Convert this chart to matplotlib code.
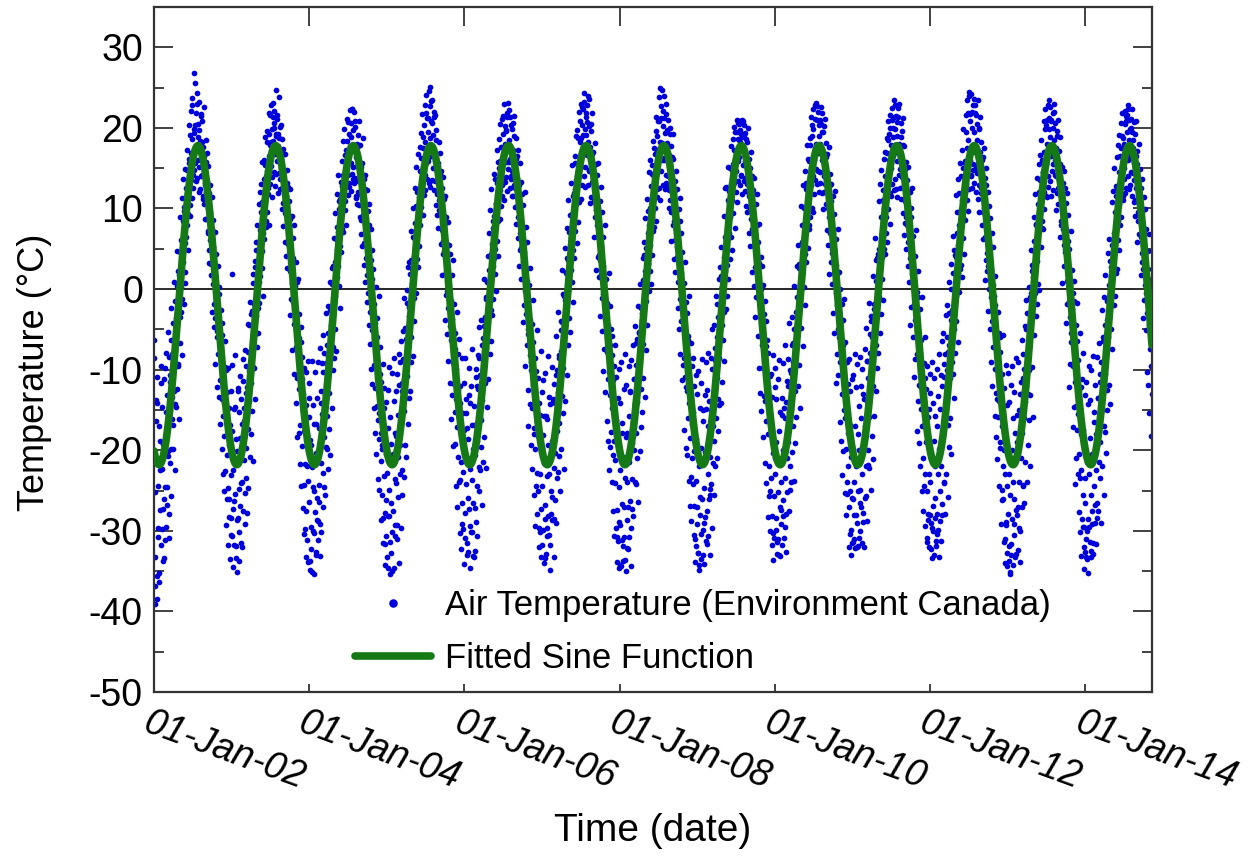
import numpy as np
import matplotlib
matplotlib.use("Agg")
import matplotlib.pyplot as plt
import matplotlib.dates as mdates
from matplotlib.ticker import MultipleLocator
import matplotlib.transforms as mtrans

# ---------------- data: air temperature (degC), sampled every 3 days ----------------
# set "a" starts 1 Jan, set "b" starts 2 Jan of each year
SAMPLE_STEP_DAYS = 3
t2002 = [-8.5, -33.2, -39.1, -16.4, -35.6, -14.2, -30.8, -24.5, -36.3, -18.9, -27.4, -11.6, -29.8, -22.3, -33.7,
         -19.5, -26.1, -9.8, -31.2, -15.3, -24.6, -13.2, -20.7, -8.4, -27.9, -11.5, -19.8, -6.3, -16.1, -13.4,
         -4.2, -12.7, -8.9, -1.5, -14.6, -6.8, 0.4, -9.3, -2.1, 1.8, -3.5, 4.6, 0.2, 6.1, -1.2,
         8.4, 3.3, 10.2, 5.7, 2.1, 12.6, 7.9, 14.8, 9.3, 11.7, 16.2, 10.4, 19.1, 13.5, 22.8,
         18.6, 14.2, 26.8, 19.4, 15.7, 20.3, 17.1, 23.0, 13.8, 18.9, 15.2, 19.7, 12.4, 21.5, 16.8,
         14.1, 18.3, 11.2, 16.5, 10.6, 12.9, 15.8, 8.7, 13.4, 10.1, 7.2, 11.9, 4.8, 9.6, 6.3,
         3.1, 7.4, 0.6, 5.2, -1.8, 1.4, -3.6, 2.8, -0.9, -5.2, -2.7, -8.1, 0.3, -6.4, -11.3,
         -7.9, -13.6, -4.2, -15.8, -10.5, -18.2, -9.7, -22.6, -14.3, -26.1, -12.8, -24.7, -19.4, -28.3, -16.9,
         -23.1, -30.5]
t2002b = [-6.3, -36.9, -25.2, -13.8, -38.4, -10.9, -29.7, -17.0, -35.2, -22.4, -9.5, -31.8, -14.6, -27.3, -19.2,
          -33.4, -11.2, -24.6, -7.9, -29.5, -26.8, -5.3, -20.1, -30.9, -10.7, -21.6, -2.4, -25.7, -8.1, -16.9,
          -19.8, 0.9, -14.3, -22.5, -3.6, -12.4, 4.7, -9.6, 2.2, -16.1, -6.7, 8.9, -2.8, 11.3, -8.2,
          13.6, -1.9, 9.7, 0.8, 14.9, 6.4, 17.2, 11.8, 4.9, 15.6, 20.4, 9.1, 16.9, 22.1, 11.3,
          23.7, 12.6, 19.9, 14.8, 25.6, 21.8, 13.4, 24.3, 16.0, 20.5, 12.1, 23.2, 18.4, 14.0, 21.7,
          20.9, 11.5, 17.6, 22.6, 13.1, 8.7, 18.5, 12.0, 16.9, 6.9, 15.3, 3.2, 12.9, 6.1, 1.7,
          11.4, -2.9, 8.6, -4.7, 2.6, 7.1, -9.3, 4.4, -6.0, -12.2, 2.9, -13.4, -0.6, -16.7, -8.5,
          -2.6, -19.8, -5.7, -22.9, -14.2, -25.0, -6.4, -29.3, -10.1, -20.6, -31.7, -9.8, -26.0, -14.7, -33.5,
          -12.6, -28.4]
t2003 = [-17.6, 1.9, -27.3, -22.5, -31.8, -25.4, -14.6, -33.4, -20.1, -28.7, -12.3, -30.2, -24.8, -18.5, -26.9,
         -31.5, -16.7, -23.9, -11.4, -21.2, -14.8, -25.3, -9.6, -19.7, -12.1, -17.4, -7.8, -13.9, -4.5, -10.2,
         -11.6, -3.1, -7.4, 0.8, -9.7, -1.9, -5.6, 2.7, -3.3, 4.9, 1.6, -2.4, 5.8, 0.9, 7.3,
         4.2, 9.5, 2.6, 10.8, 6.9, 8.8, 13.6, 10.9, 15.4, 7.7, 14.7, 18.2, 11.8, 16.5, 19.3,
         17.9, 21.6, 15.3, 19.8, 13.9, 18.4, 22.1, 20.6, 16.7, 24.7, 19.2, 15.9, 21.1, 17.8, 14.4,
         18.7, 13.6, 16.2, 20.4, 12.5, 14.9, 10.7, 16.8, 12.2, 9.4, 11.5, 7.8, 13.1, 8.9, 5.6,
         6.4, 2.3, 8.7, 4.1, 0.7, 2.2, -1.6, 3.9, -4.3, 0.4, -3.4, -7.2, 0.9, -5.8, -10.6,
         -6.1, -12.4, -8.5, -16.9, -4.7, -11.2, -19.5, -15.1, -24.3, -9.8, -21.7, -14.4, -27.6, -18.1, -31.2,
         -23.8, -15.9]
t2003b = [-30.6, -9.4, -34.5, -14.9, -26.3, -8.2, -31.9, -18.6, -35.1, -12.7, -28.4, -15.3, -33.7, -10.8, -24.1,
          -13.6, -32.0, -8.7, -27.5, -16.4, -29.1, -7.6, -23.4, -12.9, -27.8, -4.3, -24.7, -10.2, -20.8, -1.6,
          -18.0, -2.7, -15.1, 1.9, -21.3, -9.8, 3.5, -13.6, 5.8, -7.2, 7.9, -5.4, 10.6, -1.7, 12.1,
          1.6, 13.0, 4.7, 15.8, -0.9, 16.0, 6.2, 18.9, 8.5, 14.0, 9.6, 19.6, 12.5, 21.8, 7.9,
          13.0, 22.8, 18.3, 11.4, 21.3, 23.1, 14.5, 20.0, 12.8, 19.0, 14.3, 21.6, 11.9, 19.3, 23.8,
          12.4, 20.1, 15.0, 9.9, 18.6, 17.4, 7.8, 14.8, 5.9, 16.7, 4.1, 14.8, 2.6, 12.7, 7.4,
          10.9, -3.2, 12.4, -1.2, 9.1, -7.6, 6.3, -10.5, 8.0, -4.4, -14.1, 3.4, -11.0, -18.3, 1.2,
          -17.9, -3.1, -21.7, -6.6, -24.4, -8.4, -27.2, -13.0, -30.4, -17.6, -29.8, -10.3, -33.3, -22.0, -8.9,
          -33.9, -13.5]
t2004 = [-26.4, -33.8, -18.7, -29.5, -22.1, -35.1, -24.6, -30.3, -16.8, -27.7, -20.4, -32.6, -25.9, -13.5, -28.8,
         -17.2, -24.3, -29.1, -12.7, -21.6, -15.5, -22.8, -10.3, -18.4, -7.9, -13.1, -19.6, -9.2, -15.7, -5.4,
         -8.3, -12.9, -2.6, -10.1, -5.7, -4.5, 0.6, -7.2, 2.9, -1.3, 3.4, -0.8, 6.2, 1.5, 4.8,
         7.1, 2.8, 9.9, 5.3, 11.2, 9.6, 12.8, 7.4, 14.1, 11.0, 13.3, 16.6, 10.9, 15.2, 18.4,
         16.8, 14.1, 19.2, 12.7, 17.5, 15.6, 18.9, 22.4, 14.3, 19.7, 17.1, 13.2, 20.1, 11.6, 16.4,
         15.3, 12.1, 17.7, 10.4, 14.9, 11.8, 15.2, 8.6, 13.0, 10.5, 9.2, 5.7, 12.4, 7.1, 3.9,
         6.6, 1.8, 4.3, -0.5, 7.9, 0.3, -2.8, 3.6, -5.1, 1.2, -6.7, -1.9, -9.4, -4.2, -12.3,
         -8.8, -14.5, -5.9, -12.1, -18.6, -15.4, -10.6, -21.3, -17.8, -25.5, -19.9, -28.4, -14.7, -23.2, -31.6,
         -26.2, -20.5]
t2004b = [-11.6, -34.8, -19.3, -32.2, -8.9, -30.0, -14.4, -35.3, -25.1, -10.3, -33.0, -16.7, -28.6, -9.1, -31.2,
          -26.4, -7.3, -33.1, -14.2, -30.1, -9.2, -27.0, -5.7, -24.6, -13.8, -25.5, -3.0, -19.9, -7.0, -22.3,
          -2.1, -17.4, 0.9, -20.6, -6.8, -14.8, 2.6, -10.1, 6.3, -8.5, -4.9, 9.4, -7.7, 7.7, 11.8,
          14.2, 0.4, 10.9, -2.3, 13.3, 4.6, 15.9, 7.1, 18.4, 12.6, 19.9, 9.8, 17.3, 8.0, 21.1,
          11.7, 20.7, 13.1, 22.2, 17.8, 20.6, 12.2, 22.3, 15.1, 13.6, 22.0, 13.8, 20.8, 11.3, 18.0,
          10.6, 19.1, 13.4, 20.8, 9.0, 17.9, 6.8, 15.6, 5.3, 18.7, 3.0, 13.7, 0.9, 14.1, 6.2,
          12.3, -1.6, 9.7, -4.5, 10.5, -6.8, 7.4, -9.9, 4.9, -11.8, 2.5, -14.8, -6.1, -17.9, 0.2,
          -20.5, -3.6, -16.2, -23.6, -0.8, -24.9, -7.2, -28.7, -11.5, -19.4, -9.3, -31.5, -12.3, -27.8, -34.2,
          -14.0, -30.6]
t2005 = [-22.8, -34.6, -17.3, -28.1, -24.9, -31.4, -19.2, -26.6, -35.0, -21.7, -27.5, -13.9, -30.7, -23.6, -18.2,
         -24.1, -29.3, -15.6, -20.8, -11.9, -19.4, -9.1, -16.3, -22.5, -12.6, -8.7, -15.1, -11.2, -4.8, -13.5,
         -6.2, -10.8, -1.7, -8.1, -3.4, -2.2, 1.9, -5.9, 3.6, -0.4, 2.5, 6.4, -1.1, 4.1, 8.2,
         5.9, 10.3, 3.7, 8.6, 12.0, 11.4, 8.1, 14.6, 10.2, 16.3, 12.9, 17.5, 15.1, 20.4, 14.2,
         18.3, 15.6, 21.9, 17.2, 19.5, 21.2, 16.4, 25.1, 18.8, 23.3, 17.4, 20.6, 15.0, 19.1, 22.0,
         16.9, 13.4, 18.5, 14.7, 11.8, 15.6, 11.1, 13.9, 9.3, 14.3, 10.8, 7.3, 12.6, 6.0, 9.1,
         4.7, 8.2, 2.1, 5.9, -0.3, 1.8, -2.3, 4.4, -0.7, -4.6, -1.5, -6.3, -3.7, -9.2, -5.0,
         -11.8, -7.4, -15.3, -9.9, -13.6, -17.1, -12.5, -20.8, -15.9, -23.7, -14.2, -21.4, -26.5, -18.6, -29.8,
         -22.7, -17.5]
t2005b = [-33.2, -12.5, -28.1, -9.7, -35.3, -15.9, -32.8, -10.4, -30.2, -20.5, -8.6, -34.6, -17.9, -29.3, -12.6,
          -31.0, -10.5, -25.8, -34.0, -8.0, -22.9, -6.4, -29.6, -11.6, -25.5, -5.2, -23.3, -1.1, -19.4, -8.9,
          -20.9, -0.1, -16.7, 2.7, -13.5, 3.4, -12.6, 7.2, -9.1, 0.6, -8.3, 10.1, -4.0, 12.6, 6.1,
          15.2, -0.5, 12.1, 2.7, 16.7, 5.3, 17.6, 7.9, 19.4, 13.0, 21.7, 9.2, 18.9, 11.7, 22.9,
          12.3, 24.1, 13.7, 21.2, 15.9, 24.6, 13.1, 22.7, 12.7, 20.8, 13.5, 23.4, 16.8, 12.3, 21.4,
          21.6, 10.4, 19.7, 9.2, 15.3, 7.6, 18.2, 9.8, 16.9, 5.6, 14.6, 1.7, 13.9, 4.3, 11.2,
          -3.9, 11.6, -0.7, 9.0, -5.6, 8.3, -8.9, 5.5, -11.7, 4.3, -16.1, 1.8, -13.1, -19.5, 3.6,
          -1.9, -19.2, -5.4, -24.5, -2.8, -27.1, -8.1, -23.9, -6.2, -30.3, -12.0, -32.2, -8.6, -29.1, -15.4,
          -34.1, -11.7]
t2006 = [-20.3, -27.8, -15.4, -24.2, -31.5, -18.6, -25.9, -13.2, -29.4, -22.3, -30.1, -16.9, -23.7, -33.1, -19.8,
         -14.5, -27.2, -20.6, -10.9, -24.4, -18.8, -12.4, -22.1, -8.6, -15.9, -10.7, -16.2, -6.9, -13.8, -3.9,
         -9.5, -4.6, -11.7, -1.2, -7.3, -3.6, 0.9, -6.4, 2.4, -0.8, 0.7, 4.3, -2.6, 5.6, 2.9,
         7.6, 3.9, 9.1, 5.0, 10.7, 10.5, 13.2, 8.4, 12.1, 15.0, 15.9, 12.3, 17.6, 14.4, 11.5,
         16.1, 19.3, 13.8, 18.0, 20.2, 19.6, 15.8, 21.8, 17.9, 14.9, 18.5, 21.3, 16.2, 13.7, 19.9,
         14.6, 17.3, 12.8, 19.0, 15.5, 12.6, 16.1, 10.3, 13.8, 8.9, 9.7, 12.9, 7.0, 10.4, 5.1,
         5.8, 3.4, 7.6, 1.2, 4.6, -0.2, 2.6, -3.1, 1.0, -5.6, -4.9, -1.3, -8.2, -3.8, -10.1,
         -9.1, -14.7, -6.6, -11.9, -17.2, -13.3, -19.9, -10.2, -22.8, -16.5, -25.1, -18.2, -29.6, -15.6, -22.9,
         -27.3, -19.7]
t2006b = [-8.5, -30.9, -13.6, -33.0, -17.2, -32.6, -9.8, -27.3, -14.2, -34.6, -12.0, -30.1, -7.4, -26.6, -33.3,
          -16.9, -32.5, -9.9, -28.9, -12.0, -30.7, -8.2, -25.1, -4.7, -22.4, -19.6, -3.9, -26.8, -6.1, -21.5,
          1.3, -18.4, -3.5, -22.2, -1.0, -14.6, 4.1, -11.2, 6.9, -8.0, 9.8, -6.5, 12.4, -3.2, 8.4,
          -1.2, 14.3, 1.9, 13.7, -0.2, 17.3, 6.0, 15.8, 4.1, 18.6, 8.7, 20.5, 10.3, 21.1, 12.9,
          21.5, 11.0, 23.0, 13.3, 19.7, 13.9, 21.4, 12.2, 23.1, 15.8, 22.2, 12.6, 20.4, 14.0, 11.5,
          11.6, 20.6, 12.9, 21.5, 10.2, 18.8, 8.1, 16.5, 6.3, 17.3, 2.9, 15.6, 4.8, 13.3, 1.3,
          11.8, -4.1, 10.4, -2.0, 12.0, -9.5, 7.7, -6.9, 5.8, -12.5, -17.0, 0.5, -14.3, 2.6, -19.3,
          -4.3, -22.3, -1.4, -18.0, -25.5, -29.4, -8.6, -24.4, -5.1, -27.9, -11.0, -32.0, -14.2, -30.2, -7.7,
          -33.3, -12.8]
t2007 = [-24.5, -18.1, -29.9, -21.6, -33.4, -26.8, -15.7, -23.2, -30.6, -19.4, -28.2, -22.9, -14.3, -31.7, -25.1,
         -18.9, -25.8, -13.6, -22.2, -28.5, -14.1, -20.3, -10.7, -17.6, -23.4, -12.8, -8.2, -16.6, -10.4, -5.1,
         -7.7, -13.3, -4.1, -9.8, -0.9, -5.2, -1.4, 2.1, -3.9, 3.8, -0.3, 3.6, 1.2, 7.1, 4.5,
         6.5, 2.4, 9.3, 11.6, 4.8, 8.3, 12.4, 15.7, 10.6, 13.5, 14.0, 11.2, 18.8, 15.7, 20.9,
         15.4, 18.7, 22.6, 16.9, 19.1, 17.3, 24.3, 19.8, 15.2, 21.4, 20.7, 16.6, 18.2, 23.6, 14.8,
         17.6, 15.1, 19.6, 13.3, 16.8, 13.1, 10.9, 15.4, 12.0, 9.8, 11.2, 8.0, 6.4, 10.1, 4.2,
         7.0, 3.6, 5.4, 1.9, -1.1, 2.9, -0.6, 1.5, -3.7, -1.9, -5.3, -2.4, -7.8, -11.1, -4.4,
         -10.3, -6.9, -13.1, -17.7, -8.2, -14.8, -20.6, -11.3, -18.9, -24.1, -21.2, -16.3, -27.4, -30.8, -19.0,
         -24.6, -28.9]
t2007b = [-31.8, -11.3, -34.0, -15.8, -28.5, -10.4, -32.9, -16.1, -29.7, -8.3, -30.5, -13.4, -34.8, -19.5, -27.9,
          -9.7, -28.7, -14.0, -33.2, -11.8, -26.2, -5.8, -29.0, -10.0, -22.7, -2.9, -20.7, -8.6, -25.1, -4.0,
          -19.9, 2.4, -15.4, -0.6, -22.3, 5.1, -13.9, 2.0, -10.7, 7.6, -7.0, 11.0, -3.6, 9.2, -5.3,
          13.2, 0.9, 15.4, -1.6, 11.9, 3.9, 16.5, 7.2, 19.0, 5.7, 19.7, 8.3, 22.0, 10.8, 18.3,
          11.2, 23.0, 12.9, 20.4, 22.4, 14.0, 23.2, 12.7, 21.8, 19.1, 22.8, 12.9, 24.0, 14.6, 20.2,
          10.7, 20.5, 11.4, 21.9, 13.8, 17.0, 6.5, 18.1, 8.9, 15.5, 2.4, 14.2, 4.0, 15.7, 1.5,
          10.9, -3.3, 12.7, -5.2, 9.6, -10.2, 6.4, -7.4, 7.9, -12.8, 1.3, -16.4, -1.7, -18.8, 2.0,
          -22.4, -2.1, -19.6, -4.9, -24.0, -5.8, -27.5, -9.6, -30.6, -6.9, -29.7, -10.9, -33.9, -13.5, -31.3,
          -9.9, -34.6]
t2008 = [-29.3, -22.4, -34.4, -17.9, -26.7, -31.9, -20.8, -27.1, -33.6, -23.5, -18.4, -28.6, -24.0, -32.2, -15.8,
         -21.5, -26.3, -12.8, -29.7, -19.1, -23.6, -16.5, -11.1, -20.0, -14.2, -17.9, -9.4, -14.0, -6.2, -11.3,
         -10.6, -5.5, -8.0, -2.3, -12.4, -3.0, -6.8, 1.1, -1.8, 4.2, 2.2, -1.5, 5.1, 0.4, 6.9,
         3.1, 8.0, 5.5, 10.1, 12.8, 9.0, 14.3, 11.5, 7.2, 13.9, 16.8, 13.0, 19.6, 12.4, 17.1,
         14.7, 20.8, 17.4, 24.9, 18.3, 22.7, 18.1, 16.0, 20.2, 23.9, 16.3, 19.4, 14.2, 21.7, 17.7,
         18.1, 14.0, 16.6, 12.3, 19.2, 14.4, 9.6, 12.7, 16.2, 11.1, 8.5, 12.0, 6.1, 9.8, 7.5,
         4.0, 6.9, 0.9, 3.2, 8.4, -1.2, 2.0, -4.0, 0.8, -2.7, -3.0, -8.6, -5.5, -10.9, -1.6,
         -12.6, -8.0, -16.0, -6.3, -14.1, -18.5, -13.0, -23.3, -16.8, -21.0, -15.2, -26.9, -20.1, -31.0, -23.8,
         -18.6, -29.2]
t2008b = [-14.1, -34.3, -9.0, -31.2, -16.6, -33.8, -12.4, -30.8, -8.1, -35.0, -11.9, -32.1, -17.8, -27.0, -9.5,
          -30.8, -12.6, -34.4, -8.8, -27.3, -7.0, -28.1, -11.1, -24.0, -4.6, -24.2, -6.7, -21.0, -2.1, -26.4,
          -5.3, -20.1, 0.6, -17.1, -3.8, -15.2, 3.9, -11.0, 5.9, -13.4, 8.8, -7.6, 11.2, -4.4, 9.7,
          -0.2, 14.5, 2.3, 16.0, 0.6, 15.4, 4.2, 18.4, 7.7, 17.5, 10.0, 21.3, 8.4, 19.0, 11.4,
          20.9, 12.5, 23.8, 11.1, 21.2, 14.6, 24.7, 12.9, 22.1, 16.0, 21.2, 12.4, 23.0, 13.1, 19.7,
          12.8, 21.0, 10.1, 20.0, 11.0, 17.8, 6.0, 16.4, 8.0, 19.2, 3.7, 13.4, 2.1, 14.7, 5.2,
          12.4, -2.4, 9.9, -4.9, 11.3, -8.0, 6.9, -11.3, 4.6, -9.4, 0.8, -17.5, 3.3, -12.2, -19.7,
          -3.0, -20.6, -5.8, -23.8, -0.9, -26.9, -6.7, -28.8, -9.5, -24.2, -8.5, -30.5, -12.0, -33.9, -10.7,
          -31.9, -13.0]
t2009 = [-27.0, -32.7, -21.9, -34.3, -25.8, -19.7, -30.4, -26.0, -33.0, -16.4, -24.7, -29.0, -20.2, -31.3, -14.9,
         -27.6, -17.0, -23.0, -13.9, -25.6, -20.9, -15.0, -24.2, -9.9, -17.0, -14.4, -18.9, -8.8, -12.0, -16.0,
         -11.0, -6.0, -13.6, -3.5, -8.6, -6.0, -2.0, 1.6, -4.4, 0.2, 1.0, -2.9, 4.0, 6.5, 2.3,
         5.2, 8.9, 3.0, 11.0, 7.0, 12.2, 9.0, 13.0, 10.8, 14.8, 11.0, 15.5, 13.2, 17.2, 16.0,
         17.0, 14.6, 19.5, 15.9, 18.6, 16.4, 20.9, 18.2, 14.0, 19.2, 18.9, 15.4, 17.3, 20.3, 13.8,
         15.9, 18.6, 13.0, 16.0, 12.0, 13.6, 11.5, 15.0, 9.9, 12.5, 10.3, 7.5, 11.8, 5.4, 8.6,
         6.0, 2.7, 4.9, 8.0, 0.3, 1.9, -1.4, 3.2, -3.3, 0.0, -2.0, -7.0, -4.6, -9.8, -3.1,
         -9.6, -13.9, -7.1, -16.4, -11.0, -12.0, -18.0, -22.0, -14.6, -25.0, -17.7, -23.5, -28.2, -20.4, -30.3,
         -25.7, -21.0]
t2009b = [-32.8, -10.2, -34.9, -14.7, -28.0, -11.6, -33.5, -8.7, -29.9, -15.0, -34.1, -13.1, -28.3, -9.0, -31.6,
          -12.5, -30.6, -7.9, -26.1, -33.0, -24.8, -8.5, -29.7, -5.0, -21.6, -4.4, -25.6, -7.3, -22.0, -0.8,
          -21.0, -1.9, -17.6, 1.3, -14.4, 2.7, -14.2, 5.2, -11.5, 0.2, -6.3, 9.1, -8.9, 12.5, -2.5,
          12.7, -0.8, 15.1, 1.2, 10.7, 3.7, 15.0, 6.5, 17.8, 4.8, 18.6, 9.4, 20.1, 7.6, 19.5,
          12.0, 21.0, 10.8, 20.6, 13.4, 20.5, 12.9, 19.7, 14.1, 21.0, 11.8, 20.8, 13.4, 19.1, 12.2,
          19.4, 10.3, 18.2, 9.6, 20.0, 7.0, 16.1, 5.4, 17.0, 8.7, 14.0, 2.1, 12.3, 0.4, 13.8,
          -3.5, 10.6, -1.0, 11.8, -5.8, 5.9, -9.8, 8.1, -12.9, 4.0, -15.1, 2.9, -18.4, 0.5, -13.3,
          -1.5, -21.6, -4.0, -24.1, -6.3, -28.3, -7.9, -25.7, -10.8, -30.0, -10.6, -31.7, -13.4, -33.6, -8.2,
          -30.9, -12.1]
t2010 = [-23.0, -28.4, -19.0, -31.4, -25.2, -21.4, -33.0, -17.6, -27.0, -24.0, -29.2, -15.6, -26.2, -20.0, -30.9,
         -16.0, -23.4, -27.9, -14.0, -21.0, -12.0, -19.0, -15.2, -24.9, -10.0, -14.9, -7.0, -11.8, -17.0, -9.0,
         -5.0, -9.2, -12.6, -2.9, -7.0, -1.0, -4.8, 2.6, -2.6, 0.5, 3.0, 0.0, 5.9, 1.9, 7.9,
         6.0, 10.0, 4.3, 8.2, 12.4, 13.0, 9.9, 11.9, 15.9, 8.0, 17.9, 12.9, 15.0, 19.0, 14.0,
         19.9, 16.0, 22.9, 17.5, 14.9, 18.0, 21.0, 16.9, 22.0, 19.0, 14.5, 18.0, 20.5, 16.0, 21.9,
         17.0, 19.5, 14.0, 15.0, 13.0, 16.4, 12.0, 14.0, 10.0, 11.9, 9.0, 12.9, 6.9, 10.9, 5.0,
         4.5, 7.0, 2.0, 5.0, 0.9, -0.5, 3.0, -2.0, 1.9, -4.9, -6.0, -2.9, -9.0, -4.0, -7.9,
         -13.0, -6.9, -10.9, -15.0, -8.9, -16.0, -11.9, -19.9, -24.0, -17.9, -22.0, -27.0, -16.9, -25.0, -29.9,
         -20.9, -25.9]
t2010b = [-9.8, -29.9, -13.7, -32.9, -11.1, -31.0, -8.8, -33.1, -15.3, -27.4, -13.5, -31.8, -9.2, -28.1, -14.8,
          -29.5, -6.9, -32.6, -11.4, -25.2, -8.7, -27.5, -4.2, -22.0, -10.4, -24.0, -3.5, -20.2, -6.7, -23.8,
          0.4, -19.1, -4.7, -15.9, 2.8, -12.0, 5.5, -9.4, 3.1, -14.7, 10.3, -4.8, 8.0, -7.1, 12.9,
          0.2, 14.6, -2.0, 13.1, 3.3, 17.9, 5.1, 16.2, 7.4, 18.8, 8.9, 21.4, 10.1, 20.3, 9.5,
          22.3, 11.8, 21.1, 13.5, 23.1, 13.0, 22.7, 14.6, 20.4, 12.1, 21.0, 13.2, 22.6, 11.9, 19.5,
          9.9, 20.2, 12.0, 21.1, 10.6, 18.1, 7.3, 16.7, 5.5, 17.6, 1.9, 14.3, 3.4, 13.0, 0.6,
          11.5, -3.0, 9.3, -5.4, 12.2, -11.6, 6.2, -8.1, 7.4, -10.7, 2.1, -16.5, 0.0, -18.9, -1.8,
          -23.1, -3.9, -20.1, -1.2, -25.3, -6.6, -28.0, -9.0, -25.4, -11.8, -32.0, -8.7, -30.4, -12.6, -33.0,
          -11.1, -31.5]
t2011 = [-26.0, -19.9, -31.0, -23.9, -17.0, -28.0, -22.0, -32.0, -18.0, -25.0, -20.0, -30.0, -24.9, -16.0, -27.0,
         -22.9, -13.0, -28.9, -19.0, -25.9, -17.0, -22.0, -13.9, -8.9, -20.0, -11.0, -15.9, -7.9, -13.0, -4.0,
         -9.9, -6.0, -12.0, -1.9, -4.0, -4.0, 1.0, -6.9, 3.9, -1.9, 0.9, 5.0, -1.0, 3.0, 6.0,
         9.0, 4.0, 7.5, 11.0, 5.0, 10.0, 14.0, 8.9, 12.5, 16.9, 13.9, 18.5, 16.0, 11.9, 20.0,
         17.9, 15.0, 21.0, 18.9, 16.5, 23.4, 19.9, 17.0, 21.5, 15.9, 19.0, 16.9, 22.5, 18.0, 14.9,
         16.0, 18.9, 15.9, 13.9, 17.9, 15.0, 12.9, 10.9, 14.9, 9.0, 8.0, 11.0, 5.9, 12.0, 7.0,
         3.9, 6.0, 8.9, 1.9, 4.0, 1.0, -1.9, 2.0, -3.9, -0.9, -3.9, -8.0, -1.0, -6.0, -11.9,
         -7.9, -12.0, -14.9, -9.9, -17.0, -13.0, -21.0, -16.9, -11.0, -23.0, -19.0, -25.0, -30.9, -15.9, -27.9,
         -22.9, -28.0]
t2011b = [-31.4, -10.7, -28.0, -8.1, -32.1, -12.2, -29.0, -9.3, -31.9, -14.5, -30.9, -8.4, -26.5, -12.0, -31.5,
          -9.9, -27.8, -13.7, -32.0, -7.4, -25.7, -4.8, -28.8, -8.9, -21.8, -1.7, -22.2, -5.6, -24.9, -3.3,
          -18.2, 1.6, -21.1, -2.5, -15.8, 6.3, -12.7, 3.6, -9.8, 4.4, -7.9, 10.9, -5.5, 13.0, -3.1,
          14.8, 1.3, 12.3, -1.4, 16.1, 4.4, 17.0, 6.9, 18.7, 5.8, 20.9, 9.9, 19.2, 8.1, 21.6,
          11.5, 22.5, 13.0, 20.0, 12.3, 21.4, 13.6, 22.9, 12.4, 20.7, 11.4, 21.3, 14.1, 23.0, 12.6,
          20.6, 11.2, 19.6, 9.4, 21.2, 6.7, 17.7, 8.2, 15.8, 5.0, 13.5, 2.8, 15.2, 0.9, 12.1,
          -4.4, 10.0, -2.2, 12.6, -6.0, 6.6, -10.9, 4.1, -8.7, 7.3, -17.6, -0.4, -13.9, 2.3, -19.1,
          -2.5, -22.0, -6.3, -25.0, -1.0, -27.6, -9.2, -24.5, -6.0, -29.4, -12.4, -31.4, -9.6, -28.6, -14.9,
          -32.0, -10.6]
t2012 = [-24.0, -29.0, -20.9, -33.4, -26.9, -30.0, -18.9, -25.9, -22.0, -31.9, -17.0, -27.9, -23.0, -29.9, -19.9,
         -25.0, -14.9, -21.9, -28.0, -12.0, -18.0, -10.9, -23.9, -15.0, -8.0, -13.9, -6.0, -10.0, -16.9, -3.0,
         -7.0, -11.0, -3.9, 0.0, -9.0, -2.9, 2.0, -5.0, 4.9, 0.0, 4.0, -0.9, 7.0, 2.0, 5.5,
         8.0, 11.9, 5.9, 9.9, 3.0, 11.0, 15.0, 9.0, 13.9, 12.0, 15.9, 19.5, 13.0, 17.5, 21.9,
         18.5, 24.5, 16.0, 20.9, 14.0, 20.0, 17.5, 22.9, 15.5, 19.5, 17.0, 21.9, 15.0, 18.5, 20.5,
         15.5, 19.9, 12.9, 17.0, 14.5, 11.9, 14.0, 16.0, 9.5, 13.0, 10.0, 6.5, 12.9, 8.0, 4.5,
         6.9, 2.9, 5.5, 0.0, 3.5, -1.0, 2.5, -4.0, 0.5, -2.5, -5.0, -9.9, -2.0, -7.0, -12.9,
         -10.0, -15.9, -8.0, -13.9, -6.0, -19.0, -14.0, -24.9, -17.0, -21.9, -26.0, -20.0, -31.0, -23.0, -28.9,
         -34.4, -24.5]
t2012b = [-12.9, -32.3, -9.1, -29.7, -14.2, -33.0, -11.0, -28.4, -15.7, -31.3, -9.9, -30.4, -13.3, -33.3, -8.0,
          -28.8, -10.7, -31.3, -6.5, -26.7, -5.5, -24.1, -9.3, -27.9, -3.2, -22.9, -2.0, -25.8, -7.8, -19.6,
          0.9, -16.0, 3.1, -20.5, -2.6, -10.6, 6.6, -13.5, 4.2, -7.9, 11.7, -4.0, 9.5, -6.6, 13.6,
          -0.4, 15.7, 2.5, 14.0, 1.5, 17.2, 6.3, 19.9, 4.4, 15.7, 8.6, 21.6, 11.1, 23.4, 9.7,
          23.9, 12.4, 21.7, 14.1, 24.2, 12.6, 22.0, 14.8, 23.6, 13.2, 22.9, 12.0, 21.6, 14.4, 23.5,
          11.2, 20.0, 9.6, 21.3, 12.5, 18.2, 7.9, 16.4, 6.2, 17.5, 1.1, 13.8, 3.6, 15.0, 2.3,
          12.1, -2.7, 10.3, -5.0, 8.8, -9.1, 7.0, -12.0, 5.2, -7.2, -0.9, -15.8, 1.6, -18.4, -13.6,
          -21.1, -2.8, -24.4, -5.5, -19.7, -7.8, -29.1, -10.6, -26.2, -5.7, -31.4, -12.3, -34.0, -9.4, -29.3,
          -14.4, -32.7]
t2013 = [-27.9, -31.9, -22.9, -35.4, -25.5, -33.0, -20.0, -28.5, -24.0, -30.5, -26.0, -17.9, -32.9, -21.0, -28.0,
         -19.0, -27.0, -23.9, -15.0, -30.0, -21.0, -13.0, -17.9, -24.5, -11.0, -16.0, -9.9, -14.0, -5.0, -12.0,
         -8.0, -13.0, -4.9, -10.0, -1.0, -5.9, -0.5, 3.0, -3.0, 1.5, 2.5, 6.0, -0.5, 4.5, 8.0,
         6.5, 3.5, 10.5, 7.9, 12.0, 9.5, 13.5, 11.0, 16.0, 8.5, 14.5, 17.0, 12.0, 19.9, 15.5,
         16.5, 21.0, 18.0, 14.0, 19.9, 23.4, 18.9, 16.5, 21.0, 17.9, 20.0, 15.5, 18.5, 22.0, 16.0,
         17.5, 14.0, 19.0, 12.5, 15.0, 13.5, 10.5, 15.5, 11.5, 8.5, 11.5, 7.5, 9.0, 5.5, 12.5,
         5.0, 7.5, 3.0, 1.0, 6.0, 2.0, -1.5, 0.5, -3.5, -5.5, -2.5, -6.5, -9.5, -4.5, -1.5,
         -11.5, -8.5, -14.5, -6.5, -17.5, -15.5, -20.5, -12.5, -23.5, -18.0, -22.5, -28.5, -17.5, -25.5, -32.0,
         -29.5, -23.5]
t2013b = [-10.4, -33.8, -14.0, -35.1, -11.9, -31.6, -9.5, -34.2, -16.0, -29.1, -12.8, -33.2, -8.6, -27.4, -15.6,
          -32.4, -9.0, -29.6, -13.0, -33.9, -11.5, -27.0, -6.3, -24.3, -8.0, -26.6, -4.6, -21.4, -1.3, -23.9,
          -3.0, -19.4, 0.2, -16.3, -22.0, -13.1, 4.8, -9.7, 2.3, -15.9, 9.0, -5.7, 11.8, -3.4, 8.1,
          -1.8, 13.8, 0.6, 15.5, -0.1, 16.6, 5.2, 18.5, 7.6, 14.5, 7.4, 20.8, 9.9, 22.3, 11.6,
          20.3, 11.4, 22.8, 12.7, 21.2, 13.4, 22.6, 11.6, 20.9, 14.7, 21.8, 12.3, 23.0, 14.2, 20.6,
          9.8, 19.6, 11.9, 21.0, 10.5, 17.1, 6.4, 18.9, 7.9, 15.2, 0.8, 13.1, 2.9, 14.6, 4.6,
          10.7, -4.2, 11.9, -1.8, 9.2, -12.1, 5.0, -9.3, 7.2, -6.6, 2.4, -17.1, -0.5, -14.6, 1.0,
          -24.2, -4.5, -21.0, -1.7, -22.9, -8.8, -27.7, -5.4, -30.1, -12.2, -33.1, -11.1, -29.5, -7.9, -34.7,
          -13.2, -32.6]
t2014 = [-26.5, -31.0, -21.5, -33.5, -28.5, -23.0, -29.5, -18.5, -32.5, -25.5, -20.5, -27.5, -31.5, -16.5, -24.5,
         -29.0, -18.0, -22.5, -26.5, -13.5, -16.5, -21.5, -11.5, -19.0, -14.0, -9.0, -15.0, -12.5, -6.5, -17.0,
         -10.5, -4.5, -7.5, -1.5, -12.5, -3.5, -6.0, 0.5, -1.0, 3.5, 1.5, 5.5, -2.0, 3.5, 7.0,
         4.5, 9.5, 6.5, 11.5, 2.5, 12.5, 8.5, 14.5, 10.5, 16.5, 13.5, 17.5, 15.0, 19.0, 11.5,
         18.0, 15.0, 20.5, 17.5, 21.5, 19.5, 22.4, 16.0, 18.5, 21.0, 16.5, 20.0, 14.5, 19.5, 17.5,
         18.5, 13.5, 15.5, 11.0, 16.5, 12.5, 15.5, 9.5, 13.0, 10.5, 8.5, 11.5, 6.5, 9.5, 4.5,
         5.5, 2.5, 7.0, 0.5, 3.0, -0.5, 1.5, -3.0, 2.5, -2.0, -4.5, -7.5, -2.5, -9.5, -6.0]
t2014b = [-33.2, -11.5, -30.0, -14.3, -35.2, -9.6, -31.4, -13.8, -33.3, -10.1, -29.2, -8.3, -32.9, -15.2, -26.8,
          -11.9, -31.6, -8.4, -28.4, -13.5, -27.6, -6.7, -23.5, -10.6, -29.0, -2.6, -21.9, -5.9, -25.6, -1.0,
          -17.7, 1.8, -20.3, -3.9, -15.0, 4.5, -11.9, 6.2, -14.3, 2.7, -5.0, 10.8, -7.5, 12.2, -2.0,
          15.0, -0.9, 12.8, 2.0, 16.4, 6.1, 17.9, 4.9, 19.1, 8.0, 20.6, 9.0, 21.9, 11.0, 18.8,
          13.6, 22.1, 11.9, 20.9, 12.6, 21.6, 14.0, 22.8, 12.4, 19.8, 12.9, 21.1, 11.6, 22.3, 14.4,
          20.7, 10.8, 19.3, 9.1, 20.9, 5.9, 17.1, 8.4, 18.0, 6.8, 14.9, 1.8, 12.5, 3.4, 13.7,
          -3.6, 11.4, -1.4, 9.9, -5.1, 7.5, -10.3, 4.7, -11.9, 6.8, -15.4, 1.1, -18.2, -0.7, -13.0]

series_a = {2002: t2002, 2003: t2003, 2004: t2004, 2005: t2005, 2006: t2006, 2007: t2007, 2008: t2008,
            2009: t2009, 2010: t2010, 2011: t2011, 2012: t2012, 2013: t2013, 2014: t2014}
series_b = {2002: t2002b, 2003: t2003b, 2004: t2004b, 2005: t2005b, 2006: t2006b, 2007: t2007b,
            2008: t2008b, 2009: t2009b, 2010: t2010b, 2011: t2011b, 2012: t2012b, 2013: t2013b,
            2014: t2014b}

# fitted sine parameters
FIT_MEAN = -2.0
FIT_AMPLITUDE = 19.8
FIT_PERIOD_DAYS = 365.25
FIT_PEAK_DATE = "2002-07-27"

X_START = "2002-01-01"
X_END = "2014-11-10"
TICK_YEARS = [2002, 2004, 2006, 2008, 2010, 2012, 2014]

# ---------------- build arrays ----------------
dates, temps = [], []
for offset, series in ((0, series_a), (1, series_b)):
    for yr, vals in series.items():
        base = np.datetime64(f"{yr}-01-01") + np.timedelta64(offset, "D")
        for i, v in enumerate(vals):
            dates.append(base + np.timedelta64(SAMPLE_STEP_DAYS * i, "D"))
            temps.append(v)
dates = np.array(dates, dtype="datetime64[D]")
temps = np.array(temps)

fit_dates = np.arange(np.datetime64(X_START), np.datetime64(X_END) + np.timedelta64(1, "D"),
                      np.timedelta64(1, "D"))
days_from_peak = (fit_dates - np.datetime64(FIT_PEAK_DATE)).astype(float)
fit_vals = FIT_MEAN + FIT_AMPLITUDE * np.cos(2 * np.pi * days_from_peak / FIT_PERIOD_DAYS)

# ---------------- plot ----------------
plt.rcParams["font.family"] = ["Liberation Sans", "DejaVu Sans"]
plt.rcParams["axes.unicode_minus"] = False
fig = plt.figure(figsize=(12.55, 8.61), dpi=100)
ax = fig.add_axes([154 / 1255, 1 - 692 / 861, (1152 - 154) / 1255, (692 - 7) / 861])

ax.axhline(0, color="black", lw=1.2, zorder=1)
ax.plot(dates.astype("datetime64[ms]").astype(object), temps, "o", color="#0000dd", ms=4.1,
        mec="none", zorder=2, label="Air Temperature (Environment Canada)")
ax.plot(fit_dates.astype("datetime64[ms]").astype(object), fit_vals, "-", color="#157a15", lw=5.5,
        zorder=3, label="Fitted Sine Function", solid_capstyle="round")

ax.set_xlim(mdates.datestr2num(X_START), mdates.datestr2num(X_END))
ax.set_ylim(-50, 35)

ax.yaxis.set_major_locator(MultipleLocator(10))
ax.yaxis.set_minor_locator(MultipleLocator(5))
tick_nums = [mdates.datestr2num(f"{y}-01-01") for y in TICK_YEARS]
ax.set_xticks(tick_nums)
ax.xaxis.set_major_formatter(mdates.DateFormatter("%d-%b-%y"))

for s in ax.spines.values():
    s.set_color("#333333")
    s.set_linewidth(1.6)

ax.tick_params(axis="y", which="major", direction="in", length=14, width=1.3, color="#333333",
               right=True, labelsize=27, pad=8)
ax.tick_params(axis="y", which="minor", direction="in", length=7, width=1.3, color="#333333", right=True)
ax.tick_params(axis="x", which="major", direction="in", length=6, width=1.3, color="#333333",
               labelsize=27, pad=9)

top = ax.secondary_xaxis("top")
top.set_xticks(tick_nums)
top.tick_params(axis="x", direction="in", length=14, width=1.3, color="#333333", labeltop=False)
top.spines["top"].set_visible(False)

offset_tr = mtrans.ScaledTranslation(-3 / 100, 0, fig.dpi_scale_trans)
for lab in ax.get_xticklabels():
    lab.set_rotation(-20)
    lab.set_ha("left")
    lab.set_va("top")
    lab.set_rotation_mode("anchor")
    lab.set_style("italic")
    lab.set_transform(lab.get_transform() + offset_tr)

ax.set_ylabel("Temperature (°C)", fontsize=26)
ax.yaxis.set_label_coords(-0.102, 0.466)
ax.set_xlabel("Time (date)", fontsize=28, labelpad=12)

leg = ax.legend(loc="upper left", bbox_to_anchor=(341 / 1255, 1 - 575 / 861),
                bbox_transform=fig.transFigure, frameon=False, fontsize=25, handlelength=2.2,
                handletextpad=0.4, labelspacing=0.58, borderaxespad=0, markerscale=1.5)

fig.savefig("out.png", dpi=100)
